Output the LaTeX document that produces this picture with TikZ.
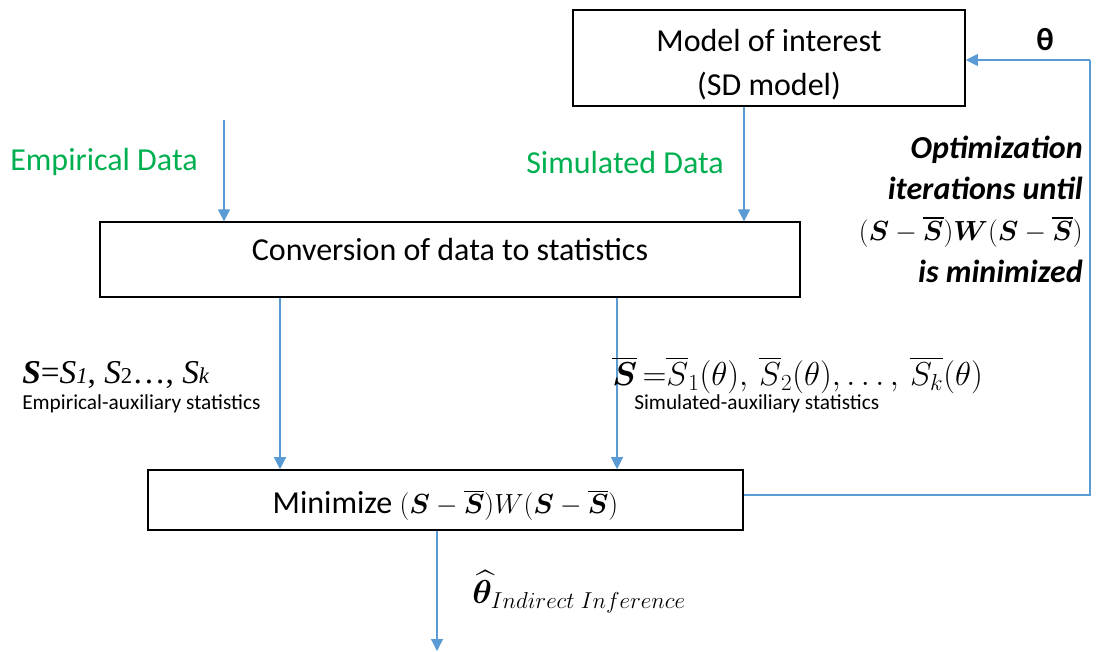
\documentclass[tikz,border=0pt]{standalone}
\usepackage{amsmath}
\usepackage{bm}
\usepackage{fontspec}
\setmainfont{Carlito}
\newfontfamily\timesf{Liberation Serif}
\usetikzlibrary{arrows.meta}
\definecolor{lineblue}{RGB}{91,155,213}
\definecolor{labgreen}{RGB}{0,176,80}
\tikzset{
  big/.style={font=\fontsize{24}{29}\selectfont},
  box/.style={draw=black, line width=1.2pt, minimum width=#1, inner sep=0pt, big},
  conn/.style={draw=lineblue, line width=0.9pt, -{Triangle[width=9pt,length=9pt]}},
  plainconn/.style={draw=lineblue, line width=0.9pt},
  greenlab/.style={text=labgreen, big},
  smalllab/.style={font=\fontsize{16}{19}\selectfont, anchor=west, inner sep=0pt},
}
\begin{document}
\begin{tikzpicture}[x=0.75pt,y=-0.75pt]
\useasboundingbox (0,0) rectangle (1098,651);
% boxes
\node[box=294pt, minimum height=72pt, align=center] (model) at (769,58) {\rule{0pt}{27pt}Model of interest\\[4pt](SD model)};
\node[box=525pt, minimum height=56pt] (conv) at (450,259.5) {Conversion of data to statistics\rule[-15pt]{0pt}{15pt}};
\node[box=446pt, minimum height=45pt] (mini) at (445.5,500) {\rule{0pt}{26pt}Minimize {\fontsize{21}{25}\selectfont$(\bm{S}-\overline{\bm{S}})W(\bm{S}-\overline{\bm{S}})$}};
% coordinates
\coordinate (empstart) at (224,120);
\coordinate (out) at (437,651);
\coordinate (c1) at (1090,495);
\coordinate (c2) at (1090,60);
% connectors
\draw[conn] (empstart) -- (empstart |- conv.north);
\draw[conn] (model.south -| 744,0) -- (conv.north -| 744,0);
\draw[conn] (conv.south -| 280,0) -- (mini.north -| 280,0);
\draw[conn] (conv.south -| 617,0) -- (mini.north -| 617,0);
\draw[conn] (mini.south -| out) -- (out);
\draw[plainconn] (mini.east |- c1) -- (c1) -- (c2);
\draw[conn] (c2) -- (model.east |- c2);
% labels
\node[greenlab] (emp) at (104,162) {Empirical Data};
\node[greenlab] (sim) at (625,162) {Simulated Data};
\node[font=\fontsize{24}{29}\selectfont\bfseries] (theta) at (1045,40) {θ};
\node[anchor=east, align=right, inner sep=0pt, font=\fontsize{24}{31}\selectfont\bfseries\itshape] (opt) at (1083,209)
  {Optimization\\iterations until\\{\fontsize{22}{31}\selectfont$(\bm{S}-\overline{\bm{S}})\bm{W}(\bm{S}-\overline{\bm{S}})$}\\is minimized};
\node[anchor=west, inner sep=0pt, font=\fontsize{25}{29}\selectfont\timesf] (sl) at (22,375)
  {\textbf{\textit{S}}=\textit{S}{\fontsize{17}{20}\selectfont\textit{1}}, \textit{S}{\fontsize{17}{20}\selectfont 2}\ldots, \textit{S}{\fontsize{17}{20}\selectfont\textit{k}}};
\node[smalllab] (el) at (22,404) {Empirical-auxiliary statistics};
\node[anchor=west, inner sep=0pt, font=\fontsize{23}{28}\selectfont] (sr) at (612,375)
  {$\overline{\bm{S}}\,{=}\overline{S}_1(\theta),\,\overline{S}_2(\theta),\ldots,\,\overline{S_k}(\theta)$};
\node[smalllab] (srl) at (634,404) {Simulated-auxiliary statistics};
\node[anchor=west, inner sep=0pt, font=\fontsize{25}{29}\selectfont] (th) at (472,592) {$\widehat{\bm{\theta}}_{Indirect\;Inference}$};
\end{tikzpicture}
\end{document}
